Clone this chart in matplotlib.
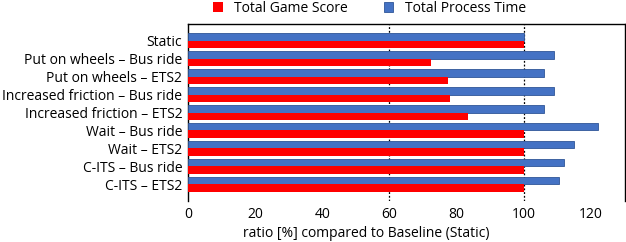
import numpy as np
import matplotlib.pyplot as plt

plt.rcParams['font.family'] = ['Open Sans', 'DejaVu Sans']

labels = ["Static", "Put on wheels – Bus ride", "Put on wheels – ETS2",
          "Increased friction – Bus ride", "Increased friction – ETS2",
          "Wait – Bus ride", "Wait – ETS2", "C-ITS – Bus ride", "C-ITS – ETS2"]
game_score = [100, 72.5, 77.5, 78, 83.5, 100, 100, 100, 100]
process_time = [100, 109, 106, 109, 106, 122, 115, 112, 110.5]
xticks = [0, 20, 40, 60, 80, 100, 120]

fig = plt.figure(figsize=(6.26, 2.42), dpi=100)
ax = fig.add_axes([0.300, 0.169, 0.698, 0.732])

y = np.arange(len(labels))
h = 0.42
ax.barh(y - h / 2, process_time, height=h, color='#4472C4', edgecolor='#2F5597',
        linewidth=0.6, label='Total Process Time', zorder=3)
ax.barh(y + h / 2, game_score, height=h, color='#FF0000', linewidth=0,
        label='Total Game Score', zorder=3)

for v in (60, 100):
    ax.axvline(v, color='black', linestyle=(0, (1.5, 1.5)), linewidth=0.9, zorder=2)

ax.set_xlim(0, 130)
ax.set_ylim(len(labels) - 0.05, -0.95)
ax.set_yticks(y)
ax.set_yticklabels(labels, fontsize=10)
ax.set_xticks(xticks)
ax.tick_params(axis='x', length=0, pad=4, labelsize=10)
ax.tick_params(axis='y', length=0, pad=4)
ax.spines['bottom'].set_visible(False)
for s in ('left', 'top', 'right'):
    ax.spines[s].set_linewidth(1.0)

ax.set_xlabel('ratio [%] compared to Baseline (Static)', fontsize=10)
ax.xaxis.set_label_coords(0.408, -0.14)

hnd, lab = ax.get_legend_handles_labels()
fig.legend(hnd[::-1], lab[::-1], loc='center', bbox_to_anchor=(0.59, 0.965), ncol=2,
           frameon=False, fontsize=10, handlelength=0.7, handleheight=0.7,
           columnspacing=2.6, handletextpad=0.8)

fig.savefig('out.png', dpi=100)
